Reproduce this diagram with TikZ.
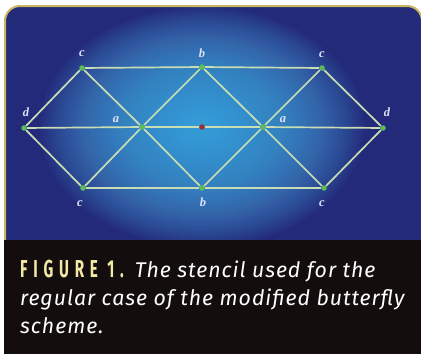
\documentclass[tikz,border=0pt]{standalone}
\usepackage{fontspec}
\setmainfont[LetterSpace=4.5]{Fira Sans}
\newfontfamily\figfont[LetterSpace=38]{Fira Sans}
\usetikzlibrary{backgrounds}
\definecolor{panel}{HTML}{232A7A}
\definecolor{glowc}{HTML}{4FB8F0}
\definecolor{gold}{HTML}{C9B65E}
\definecolor{capbg}{HTML}{130D0D}
\definecolor{edgec}{HTML}{C8DDB4}
\definecolor{dotc}{HTML}{5DBB5A}
\definecolor{redc}{HTML}{9A2E3A}
\definecolor{labc}{HTML}{E2E2F6}
\definecolor{figc}{HTML}{F2E9A6}
\tikzset{
  pt/.style={circle, fill=dotc, inner sep=0pt, minimum size=5.5pt},
  ctr/.style={circle, fill=redc, inner sep=0pt, minimum size=5.5pt},
  edge/.style={draw=edgec, line width=1.7pt},
  lab/.style={text=labc, font=\fontspec{Liberation Serif}\bfseries\itshape\fontsize{12.5}{12.5}\selectfont, inner sep=0pt},
}
\begin{document}
\begin{tikzpicture}[x=1pt,y=-1pt]
\useasboundingbox (0,0) rectangle (421,354);
% points
\node[pt] (c1) at (82,68) {};
\node[pt] (b1) at (202,67) {};
\node[pt] (c2) at (322,68) {};
\node[pt] (d1) at (24,128) {};
\node[pt] (a1) at (142,127) {};
\node[ctr] (o) at (202,127) {};
\node[pt] (a2) at (263,127) {};
\node[pt] (d2) at (383,128) {};
\node[pt] (c3) at (83,188) {};
\node[pt] (b2) at (202,188) {};
\node[pt] (c4) at (324,188) {};
\begin{pgfonlayer}{background}
\fill[white] (0,0) rectangle (421,354);
\begin{scope}
\clip[rounded corners=15pt] (5,6) rectangle (422,260);
\fill[panel] (0,0) rectangle (421,260);
\foreach \r in {1,...,60}
  \fill[glowc, opacity=0.034] (202,127) ellipse ({\r*2.7} and {\r*2.0});
\end{scope}
\draw[gold, line width=2pt, rounded corners=15pt] (5,245) -- (5,6) -- (422,6) -- (422,245);
\fill[capbg] (4,240) rectangle (421,354);
\draw[edge] (c1) -- (b1) -- (c2);
\draw[edge] (c3) -- (b2) -- (c4);
\draw[edge] (d1) -- (a1) -- (o) -- (a2) -- (d2);
\draw[edge] (c1) -- (d1) -- (c3);
\draw[edge] (c2) -- (d2) -- (c4);
\draw[edge] (c1) -- (a1) -- (b2);
\draw[edge] (b1) -- (a1) -- (c3);
\draw[edge] (b1) -- (a2) -- (c4);
\draw[edge] (c2) -- (a2) -- (b2);
\end{pgfonlayer}
% labels
\node[lab] (lc1) at (82,54) {c};
\node[lab] (lb1) at (202,53) {b};
\node[lab] (lc2) at (322,55) {c};
\node[lab] (ld1) at (26,112) {d};
\node[lab] (la1) at (116,120) {a};
\node[lab] (la2) at (283,120) {a};
\node[lab] (ld2) at (387,112) {d};
\node[lab] (lc3) at (80,204) {c};
\node[lab] (lb2) at (203,202) {b};
\node[lab] (lc4) at (322,204) {c};
% caption
\node[anchor=base west, align=left, inner sep=0pt, text=white, font=\fontsize{21.3}{28}\selectfont\itshape] (cap) at (20,333)
{{\upshape\figfont\bfseries\color{figc}\scalebox{0.62}[1]{\fontsize{24.5}{28}\selectfont FIGURE 1.}}\hspace{11pt}The stencil used for the\\regular case of the modified butterfly\\scheme.};
\end{tikzpicture}
\end{document}
